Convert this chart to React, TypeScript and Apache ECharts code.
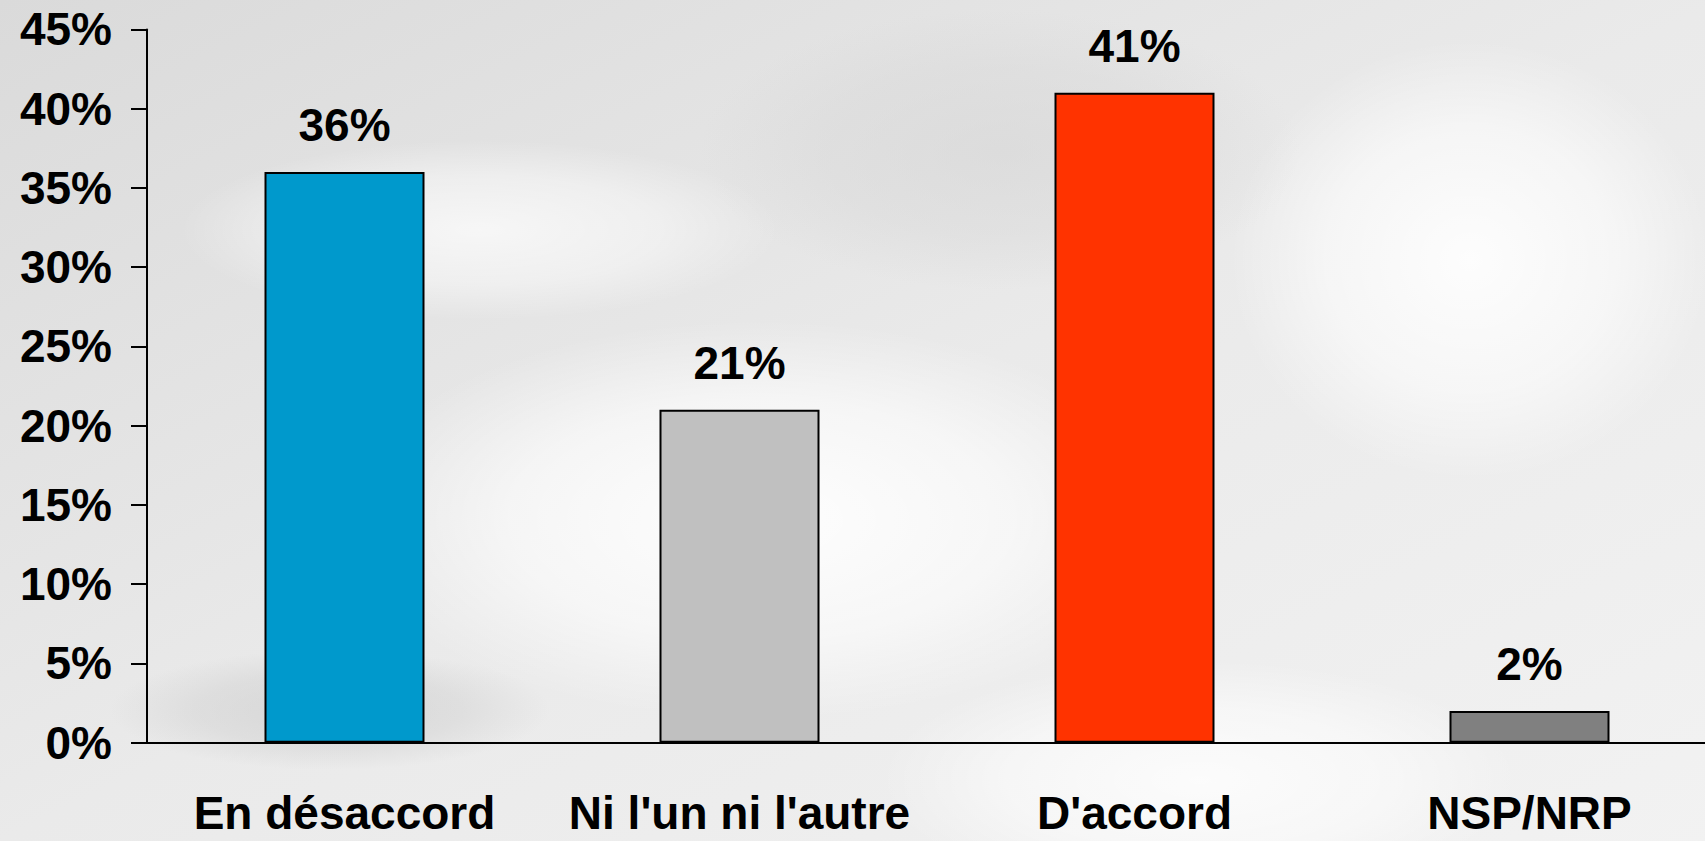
import React, { useEffect, useRef } from "react";
import * as echarts from "echarts";

const categories = ["En désaccord", "Ni l'un ni l'autre", "D'accord", "NSP/NRP"];
const values = [36, 21, 41, 2];
const barColors = ["#0099CC", "#C0C0C0", "#FF3300", "#808080"];
const yTicks = { min: 0, max: 45, interval: 5 };

function glow(cx: number, cy: number, rx: number, ry: number, color: string, alpha: number) {
  return {
    type: "ellipse",
    z: -10,
    silent: true,
    shape: { cx, cy, rx, ry },
    style: {
      fill: {
        type: "radial", x: 0.5, y: 0.5, r: 0.5,
        colorStops: [
          { offset: 0, color: `rgba(${color},${alpha})` },
          { offset: 0.6, color: `rgba(${color},${alpha * 0.6})` },
          { offset: 1, color: `rgba(${color},0)` },
        ],
      },
    },
  };
}

export default function App() {
  const ref = useRef<HTMLDivElement>(null);
  useEffect(() => {
    if (!ref.current) return;
    const chart = echarts.init(ref.current, null, { renderer: "svg" });
    const font = "'Liberation Sans', Arial, sans-serif";
    chart.setOption({
      animation: false,
      backgroundColor: {
        type: "linear", x: 0, y: 0, x2: 1, y2: 1,
        colorStops: [
          { offset: 0, color: "#dadada" },
          { offset: 0.5, color: "#eaeaea" },
          { offset: 1, color: "#f2f2f2" },
        ],
      },
      graphic: [
        glow(760, 520, 420, 200, "255,255,255", 0.95),
        glow(1470, 260, 240, 220, "255,255,255", 0.9),
        glow(1200, 780, 320, 120, "255,255,255", 0.8),
        glow(480, 230, 300, 90, "255,255,255", 0.7),
        glow(330, 710, 220, 60, "195,195,195", 0.5),
        glow(1000, 150, 300, 140, "210,210,210", 0.5),
      ],
      grid: { left: 147, right: 0, top: 29.4, bottom: 98.3, containLabel: false },
      xAxis: {
        type: "category",
        data: categories,
        axisLine: { lineStyle: { color: "#000", width: 2 } },
        axisTick: { length: 16, lineStyle: { color: "#000", width: 2 } },
        axisLabel: { color: "#000", fontFamily: font, fontWeight: "bold", fontSize: 46, margin: 47, interval: 0 },
      },
      yAxis: {
        type: "value",
        min: yTicks.min,
        max: yTicks.max,
        interval: yTicks.interval,
        splitLine: { show: false },
        axisLine: { show: true, lineStyle: { color: "#000", width: 2 } },
        axisTick: { show: true, length: 16, lineStyle: { color: "#000", width: 2 } },
        axisLabel: { color: "#000", fontFamily: font, fontWeight: "bold", fontSize: 46, margin: 35, formatter: "{value}%" },
      },
      series: [
        {
          type: "bar",
          barWidth: 160,
          data: values.map((v, i) => ({ value: v, itemStyle: { color: barColors[i] } })),
          itemStyle: { borderColor: "#000", borderWidth: 2 },
          label: {
            show: true,
            position: "top",
            distance: 24,
            formatter: "{c}%",
            color: "#000",
            fontFamily: font,
            fontWeight: "bold",
            fontSize: 46,
          },
        },
      ],
    });
    return () => chart.dispose();
  }, []);
  return (
    <div style={{ position: "absolute", left: 0, top: 0, width: 1705, height: 841, overflow: "hidden" }}>
      <div ref={ref} style={{ width: 1727, height: 841 }} />
    </div>
  );
}
